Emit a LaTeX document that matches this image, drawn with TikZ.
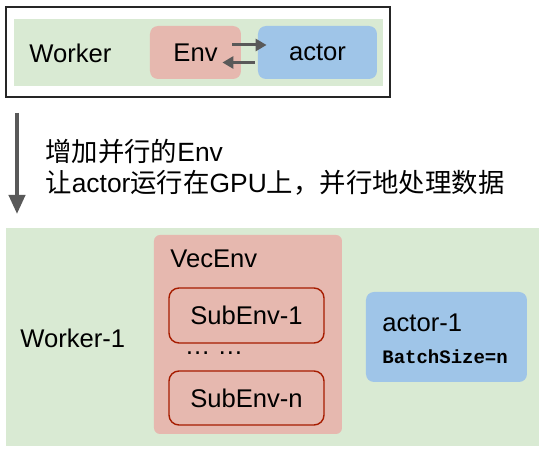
\documentclass[tikz,border=0pt]{standalone}
\usepackage{fontspec}
\setmainfont{Liberation Sans}
\setmonofont{Liberation Mono}
\newfontfamily\cjk{Noto Sans CJK SC}
\usepackage{tikz}
\usetikzlibrary{arrows.meta}
\usetikzlibrary{positioning}
\definecolor{light green}{HTML}{D9EAD3}
\definecolor{light red}{HTML}{E6B8AF}
\definecolor{light blue}{HTML}{9FC5E8}
\definecolor{dark red}{HTML}{A61C00}
\definecolor{arrow gray}{HTML}{595959}
\tikzstyle{txt}=[inner sep=0pt,font=\fontsize{12.8}{15}\selectfont]
\tikzstyle{panel}=[fill=light green,draw=none,inner sep=0pt]

\begin{document}
\begin{tikzpicture}[
  x=0.5pt,y=-0.5pt,
  envbox/.style={fill=light red,rounded corners=4pt,inner sep=0pt,minimum height=26.5pt},
  actorbox/.style={fill=light blue,rounded corners=4pt,inner sep=0pt,minimum height=26.5pt},
  subbox/.style={draw=dark red,line width=0.7pt,rounded corners=5pt,inner sep=0pt,minimum width=77.5pt,txt},
  flow/.style={arrow gray,line width=1.5pt,-{Triangle[length=5.5pt,width=6pt]}},
  step arrow/.style={arrow gray,line width=2pt,-{Triangle[length=9.5pt,width=8pt]}},
]
  \useasboundingbox (0,0) rectangle (543,449);
  % before
  \node[draw=black!85,line width=1pt,minimum width=192pt,minimum height=45pt] (frame) at (198,52) {};
  \node[panel,minimum width=184.5pt,minimum height=33.5pt] (worker) at (198.5,52.5) {};
  \node[txt,anchor=west] (workerlabel) at (29,53) {Worker};
  \node[envbox,minimum width=45.5pt,txt] (env) at (195.5,52.5) {Env};
  \node[actorbox,minimum width=59.5pt,txt] (actor) at (317.5,52.5) {actor};
  \draw[flow] ([xshift=-4.5pt,yshift=3.75pt]env.east) -- ([xshift=4.5pt,yshift=3.75pt]actor.west);
  \draw[flow] ([xshift=-1.5pt,yshift=-5pt]actor.west) -- ([xshift=-9.5pt,yshift=-5pt]env.east);

  % step
  \coordinate (from) at (17,113);
  \coordinate (to) at (17,214);
  \draw[step arrow] (from) -- (to);
  \node[txt,anchor=west,align=left,font=\fontsize{13.2}{15.5}\selectfont] (note) at (45,167.5)
    {{\cjk 增加并行的}Env\\{\cjk 让}actor{\cjk 运行在}GPU{\cjk 上，并行地处理数据}};

  % after
  \node[panel,minimum width=266.5pt,minimum height=109pt] (worker1) at (272.5,337) {};
  \node[txt,anchor=west] (worker1label) at (20,338) {Worker-1};
  \node[envbox,rounded corners=3pt,minimum width=94pt,minimum height=99.5pt] (vecenv) at (248,334.5) {};
  \node[txt,anchor=west] (veclabel) at (170,259) {VecEnv};
  \node[subbox,minimum height=27.5pt] (sub1) at (246.5,315.5) {SubEnv-1};
  \node[txt] (dots) at (214,353) {\dots{} \dots};
  \node[subbox,minimum height=27pt] (subn) at (246.5,398) {SubEnv-n};
  \node[actorbox,minimum width=80.5pt,minimum height=45pt] (actor1) at (446.5,337) {};
  \node[txt,anchor=west] (actor1label) at (382,323) {actor-1};
  \node[inner sep=0pt,anchor=west,font=\fontsize{9.5}{11}\selectfont\ttfamily\bfseries] (batch) at (382,357) {BatchSize=n};
\end{tikzpicture}
\end{document}
